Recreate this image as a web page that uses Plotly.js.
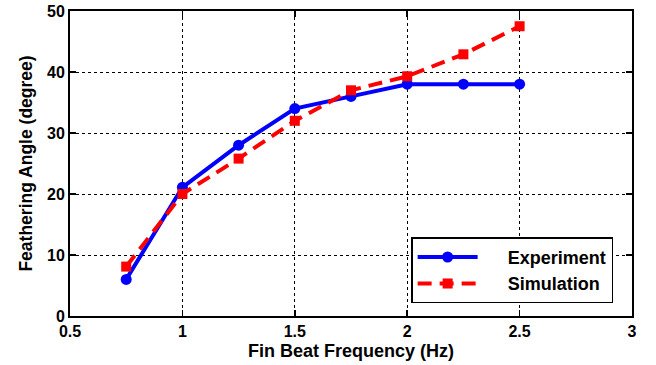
<!DOCTYPE html>
<html><head><meta charset="utf-8">
<script src="https://cdn.plot.ly/plotly-3.0.1.min.js"></script>
<style>html,body{margin:0;padding:0;background:#fff}</style>
</head><body><div id="chart" style="width:656px;height:365px"></div>
<script>
const freq = [0.75, 1, 1.25, 1.5, 1.75, 2, 2.25, 2.5];
const experiment = [6, 21.1, 28, 34, 36, 38, 38, 38];
const simulation = [8.1, 20, 25.8, 32, 37, 39.3, 42.9, 47.5];
const xTicks = [0.5, 1, 1.5, 2, 2.5, 3];
const yTicks = [0, 10, 20, 30, 40, 50];
const fam = 'Liberation Sans, Arial, sans-serif';
const tickFont = {family: fam, size: 16, color: '#000'};
const data = [
  {x: freq, y: experiment, name: '&nbsp;&nbsp;&nbsp;&nbsp;&nbsp;<b>Experiment</b>', mode: 'lines+markers',
   line: {color: '#0000ff', width: 4}, marker: {symbol: 'circle', size: 11, color: '#0000ff'}},
  {x: freq, y: simulation, name: '&nbsp;&nbsp;&nbsp;&nbsp;&nbsp;<b>Simulation</b>', mode: 'lines+markers',
   line: {color: '#ff0000', width: 4, dash: '14px,8px'}, marker: {symbol: 'square', size: 10, color: '#ff0000'}}
];
const axisCommon = {showline: true, linecolor: '#000', linewidth: 2, mirror: 'ticks', ticks: 'inside',
  ticklen: 6, tickcolor: '#000', tickwidth: 1.5, showgrid: true, gridcolor: '#000', gridwidth: 1,
  griddash: 'dot', zeroline: false, tickfont: tickFont};
const layout = {
  width: 656, height: 365, margin: {l: 70, r: 24, t: 11, b: 49},
  paper_bgcolor: '#fff', plot_bgcolor: '#fff', font: tickFont, showlegend: true,
  xaxis: Object.assign({}, axisCommon, {range: [0.5, 3], tickvals: xTicks,
    ticktext: xTicks.map(v => '<b>' + v + '</b>'),
    title: {text: '<b>Fin Beat Frequency (Hz)</b>', font: {family: fam, size: 18, color: '#000'}, standoff: 5}}),
  yaxis: Object.assign({}, axisCommon, {range: [0, 50], tickvals: yTicks,
    ticktext: yTicks.map(v => '<b>' + v + '</b>'),
    title: {text: '<b>Feathering Angle (degree)</b>', font: {family: fam, size: 17.5, color: '#000'}, standoff: 10}}),
  legend: {x: 0.607, y: 0.258, xanchor: 'left', yanchor: 'top', bgcolor: '#fff',
    bordercolor: '#000', borderwidth: 1.5, font: {family: fam, size: 18, color: '#000'},
    itemwidth: 60, tracegroupgap: 0}
};
Plotly.newPlot('chart', data, layout, {displayModeBar: false, staticPlot: true});
</script></body></html>
